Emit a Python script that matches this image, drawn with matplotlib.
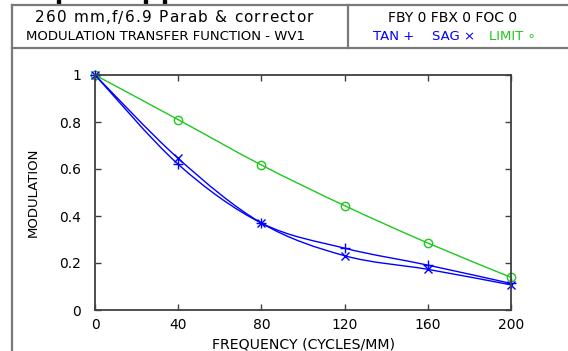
import numpy as np
import matplotlib
matplotlib.use('Agg')
import matplotlib.pyplot as plt
from matplotlib.path import Path
from matplotlib.patches import PathPatch, Rectangle
from matplotlib.lines import Line2D
from matplotlib.ticker import FormatStrFormatter
from matplotlib.font_manager import FontProperties, findfont, get_font

# spatial frequency (cycles/mm)
freq = [0, 40, 80, 120, 160, 200]
# modulation values
tan_mtf = [1.0, 0.62, 0.37, 0.263, 0.191, 0.113]
sag_mtf = [1.0, 0.645, 0.37, 0.231, 0.173, 0.107]
limit_mtf = [1.0, 0.81, 0.617, 0.444, 0.285, 0.139]

title_lines = ['260 mm,f/6.9 Parab & corrector',
               'MODULATION TRANSFER FUNCTION - WV1']
info_line = 'FBY 0 FBX 0 FOC 0'

BLUE = '#0000ff'
GREEN = '#1ec81e'
FRAME = '#7a7a7a'
FONT = 'DejaVu Sans'
DPI = 100

plt.rcParams['font.family'] = [FONT]


def smooth_path(xs, ys):
    # catmull-rom through the points, as cubic bezier segments
    pts = np.column_stack([xs, ys]).astype(float)
    verts = [pts[0]]
    codes = [Path.MOVETO]
    n = len(pts)
    for i in range(n - 1):
        p0 = pts[i - 1] if i > 0 else pts[i]
        p1 = pts[i]
        p2 = pts[i + 1]
        p3 = pts[i + 2] if i + 2 < n else pts[i + 1]
        c1 = p1 + (p2 - p0) / 6.0
        c2 = p2 - (p3 - p1) / 6.0
        verts += [c1, c2, p2]
        codes += [Path.CURVE4] * 3
    return Path(verts, codes)


fig = plt.figure(figsize=(5.68, 3.51), dpi=DPI)
W, H = 568.0, 351.0


def fx(px):
    return px / W


def fy(py):
    return 1 - py / H


def spaced_text(s, x_left, x_right, y, size, color='black'):
    # place characters one by one so the line fills x_left..x_right
    ft = get_font(findfont(FontProperties(family=FONT)))
    ft.set_size(size, DPI)
    adv = [ft.load_char(ord(c)).linearHoriAdvance / 65536.0 for c in s]
    track = ((x_right - x_left) - sum(adv)) / (len(s) - 1)
    x = x_left
    for c, a in zip(s, adv):
        fig.text(fx(x), fy(y), c, ha='left', va='center',
                 fontsize=size, color=color)
        x += a + track


# outer frame and header cells
for (x0, y0, x1, y1) in [(12, 5, 568, 5), (12, 48, 568, 48),
                         (12, 5, 12, 351), (348, 5, 348, 48)]:
    fig.add_artist(Line2D([fx(x0), fx(x1)], [fy(y0), fy(y1)],
                          color=FRAME, lw=1.6, transform=fig.transFigure))

# bits of text cut off above the frame
for x in [57, 144, 163]:
    fig.add_artist(Rectangle((fx(x), fy(2.5)), 3 / W, 2.5 / H,
                             color='black', transform=fig.transFigure))

spaced_text(title_lines[0], 35, 313, 18, 11)
fig.text(fx(165), fy(37), title_lines[1], ha='center', va='center',
         fontsize=9.5, color='black')
fig.text(fx(453), fy(18), info_line, ha='center', va='center',
         fontsize=10, color='black')
fig.text(fx(394), fy(37), 'TAN +', ha='center', va='center',
         fontsize=9.5, color=BLUE)
fig.text(fx(454), fy(37), 'SAG \u00d7', ha='center', va='center',
         fontsize=9.5, color=BLUE)
fig.text(fx(512), fy(37), 'LIMIT \u2218', ha='center', va='center',
         fontsize=9.5, color=GREEN)

ax = fig.add_axes([fx(95), fy(310), fx(511) - fx(95), fy(75) - fy(310)])

for ys, c in [(limit_mtf, GREEN), (sag_mtf, BLUE), (tan_mtf, BLUE)]:
    ax.add_patch(PathPatch(smooth_path(freq, ys), fill=False,
                           edgecolor=c, lw=1.0, clip_on=False))

ax.plot(freq, limit_mtf, ls='none', marker='o', ms=6, mfc='none',
        mec=GREEN, mew=1.0, clip_on=False)
ax.plot(freq, tan_mtf, ls='none', marker='+', ms=7, mec=BLUE,
        mew=1.0, clip_on=False)
ax.plot(freq, sag_mtf, ls='none', marker='x', ms=6, mec=BLUE,
        mew=1.0, clip_on=False)

ax.set_xlim(0, 200)
ax.set_ylim(0, 1)
ax.set_xticks(freq)
ax.set_yticks([0, 0.2, 0.4, 0.6, 0.8, 1.0])
ax.yaxis.set_major_formatter(FormatStrFormatter('%g'))

for s in ax.spines.values():
    s.set_color('#404040')
    s.set_linewidth(1.3)

ax.tick_params(axis='both', direction='in', length=4, width=1,
               color='#404040', labelsize=10, top=True, right=True)
ax.tick_params(axis='y', pad=10)
ax.tick_params(axis='x', pad=6)

ax.set_xlabel('FREQUENCY (CYCLES/MM)', fontsize=10.2, labelpad=4)
ax.set_ylabel('MODULATION', fontsize=9.5, labelpad=14)

fig.savefig('out.png', dpi=DPI, facecolor='white')
